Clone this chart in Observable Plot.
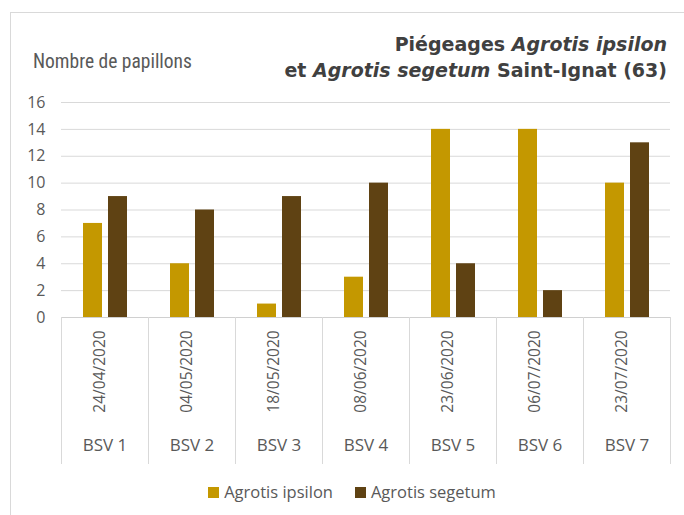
<!DOCTYPE html>
<html>
<head>
<meta charset="utf-8">
<script src="https://cdn.jsdelivr.net/npm/d3@7"></script>
<script src="https://cdn.jsdelivr.net/npm/@observablehq/plot@0.6"></script>
<style>
  html, body { margin: 0; padding: 0; background: #fff; }
  #wrap { position: relative; width: 684px; height: 515px; overflow: hidden; font-family: "Open Sans", sans-serif; }
  #frame { position: absolute; left: 10px; top: 12px; width: 700px; height: 520px; border: 1px solid #d9d9d9; }
  #ylabel { position: absolute; left: 33px; top: 51px; line-height: 22px; font-family: "Liberation Sans Narrow", "Roboto Condensed", "Liberation Sans", sans-serif; font-size: 19.5px; color: #595959; }
  #title { position: absolute; right: 17px; top: 31px; text-align: right; font-family: "DejaVu Sans", sans-serif; font-weight: bold; font-size: 19px; line-height: 26px; color: #404040; white-space: nowrap; }
  #chart { position: absolute; left: 0; top: 90px; }
  #legend { position: absolute; left: 10px; top: 481px; width: 684px; line-height: 22px; text-align: center; font-size: 16.5px; color: #595959; }
  #legend span.item { margin: 0 11px; }
  #legend span.sw { display: inline-block; width: 11px; height: 11px; margin-right: 5px; vertical-align: 0px; }
</style>
</head>
<body>
<div id="wrap">
  <div id="frame"></div>
  <div id="ylabel">Nombre de papillons</div>
  <div id="title">Piégeages <i>Agrotis ipsilon</i><br>et <i>Agrotis segetum</i> Saint-Ignat (63)</div>
  <div id="chart"></div>
  <div id="legend"></div>
</div>
<script>
const bsv = ["BSV 1", "BSV 2", "BSV 3", "BSV 4", "BSV 5", "BSV 6", "BSV 7"];
const dates = ["24/04/2020", "04/05/2020", "18/05/2020", "08/06/2020", "23/06/2020", "06/07/2020", "23/07/2020"];
const series = ["Agrotis ipsilon", "Agrotis segetum"];
const ipsilon = [7, 4, 1, 3, 14, 14, 10];
const segetum = [9, 8, 9, 10, 4, 2, 13];
const colors = ["#c49800", "#5f4213"];
const yTicks = [0, 2, 4, 6, 8, 10, 12, 14, 16];

const rows = [];
bsv.forEach((b, i) => {
  rows.push({bsv: b, date: dates[i], series: series[0], value: ipsilon[i]});
  rows.push({bsv: b, date: dates[i], series: series[1], value: segetum[i]});
});
const cats = bsv.map((b, i) => ({bsv: b, date: dates[i]}));

const chart = Plot.plot({
  width: 684,
  height: 390,
  marginTop: 12,
  marginBottom: 163,
  marginLeft: 60,
  marginRight: 14,
  style: {fontFamily: "Open Sans, sans-serif", fontSize: "16px", color: "#595959", background: "transparent"},
  fx: {domain: bsv, padding: 0, axis: null},
  x: {domain: series, paddingInner: 0.24, paddingOuter: 0.86, axis: null},
  y: {domain: [0, 16], ticks: yTicks, tickSize: 0, tickPadding: 16, label: null},
  color: {domain: series, range: colors},
  marks: [
    Plot.ruleY(yTicks, {stroke: "#d9d9d9", strokeWidth: 1, facet: false}),
    Plot.barY(rows, {fx: "bsv", x: "series", y: "value", fill: "series"}),
    Plot.ruleY([0], {stroke: "#d0d0d0", strokeWidth: 1}),
    Plot.frame({anchor: "left", stroke: "#d9d9d9", insetTop: 215, insetBottom: -146}),
    Plot.frame({anchor: "right", stroke: "#d9d9d9", insetTop: 215, insetBottom: -146}),
    Plot.text(cats, {fx: "bsv", text: "date", frameAnchor: "bottom", rotate: -90, dy: 54, fill: "#595959", fontSize: 15.5}),
    Plot.text(cats, {fx: "bsv", text: "bsv", frameAnchor: "bottom", dy: 133, fill: "#595959", fontSize: 17})
  ]
});
document.getElementById("chart").appendChild(chart);

const legend = document.getElementById("legend");
series.forEach((s, i) => {
  const item = document.createElement("span");
  item.className = "item";
  const sw = document.createElement("span");
  sw.className = "sw";
  sw.style.background = colors[i];
  item.appendChild(sw);
  item.appendChild(document.createTextNode(s));
  legend.appendChild(item);
});
</script>
</body>
</html>
